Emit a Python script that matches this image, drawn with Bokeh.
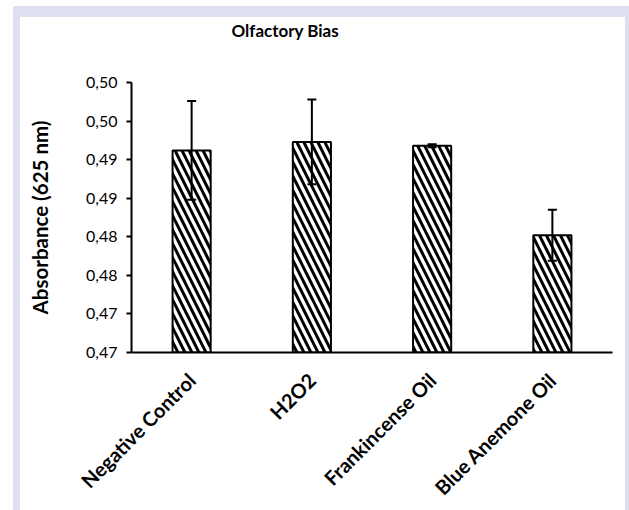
from bokeh.plotting import figure
from bokeh.models import ColumnDataSource, FixedTicker, Whisker, TeeHead, Title
from bokeh.embed import file_html
from bokeh.resources import INLINE

# ---- data ----
categories = ["Negative Control", "H2O2", "Frankincense Oil", "Blue Anemone Oil"]
category_labels = ["Negative Control", "H\u2082O\u2082", "Frankincense Oil", "Blue Anemone Oil"]
absorbance = [0.4912, 0.4923, 0.4918, 0.4802]
error = [0.0064, 0.0055, 0.0002, 0.0033]
y_tick_values = [0.465, 0.47, 0.475, 0.48, 0.485, 0.49, 0.495, 0.5]
y_tick_labels = ["0,47", "0,47", "0,48", "0,48", "0,49", "0,49", "0,50", "0,50"]
title_text = "Olfactory Bias"
y_label = "Absorbance (625 nm)"

FONT = "Lato"
BAND = "#dde0ef"

src = ColumnDataSource(dict(
    cat=categories,
    val=absorbance,
    upper=[v + e for v, e in zip(absorbance, error)],
    lower=[v - e for v, e in zip(absorbance, error)],
))

p = figure(x_range=categories, y_range=(y_tick_values[0], y_tick_values[-1]),
           width=605, height=493, output_backend="svg", toolbar_location=None,
           min_border_left=111, min_border_right=13, min_border_top=65,
           min_border_bottom=153, title=None)
p.styles = {"margin-left": "20px", "margin-top": "17px",
            "box-shadow": (f"-7px -11px 0 0 {BAND}, 4px -11px 0 0 {BAND}, "
                           f"4px 0 0 0 {BAND}, -7px 0 0 0 {BAND}")}
p.background_fill_color = "white"
p.border_fill_color = "white"
p.outline_line_color = None
p.grid.visible = False

p.vbar(x="cat", top="val", bottom=y_tick_values[0], width=0.317, source=src,
       fill_color="white", line_color="black", line_width=2,
       hatch_pattern="\\", hatch_color="black", hatch_weight=3, hatch_scale=14)

w = Whisker(source=src, base="cat", upper="upper", lower="lower",
            line_color="black", line_width=2, level="overlay",
            upper_head=TeeHead(size=9, line_width=2, line_color="black"),
            lower_head=TeeHead(size=9, line_width=2, line_color="black"))
p.add_layout(w)

# spacer (nearest to the frame) then the real title above it
p.add_layout(Title(text=" ", text_font_size="1px", standoff=39), "above")
p.add_layout(Title(text=title_text, align="left", offset=100, standoff=0,
                   text_font=FONT, text_font_style="bold", text_font_size="17px",
                   text_color="black"), "above")

# y axis
ya = p.yaxis[0]
ya.ticker = FixedTicker(ticks=y_tick_values)
ya.major_label_overrides = {v: l for v, l in zip(y_tick_values, y_tick_labels)}
ya.minor_tick_line_color = None
ya.major_tick_out = 5
ya.major_tick_in = 0
ya.major_tick_line_width = 2
ya.axis_line_width = 2
ya.axis_line_color = "black"
ya.major_label_text_font = FONT
ya.major_label_text_font_size = "16px"
ya.major_label_text_color = "black"
ya.major_label_standoff = 9
ya.axis_label = y_label
ya.axis_label_text_font = FONT
ya.axis_label_text_font_style = "bold"
ya.axis_label_text_font_size = "20.5px"
ya.axis_label_text_color = "black"
ya.axis_label_standoff = 31

# x axis
xa = p.xaxis[0]
xa.major_label_overrides = {c: l for c, l in zip(categories, category_labels)}
xa.major_tick_line_color = None
xa.minor_tick_line_color = None
xa.axis_line_width = 2
xa.axis_line_color = "black"
xa.major_label_orientation = 0.785398
xa.major_label_text_font = FONT
xa.major_label_text_font_style = "bold"
xa.major_label_text_font_size = "20px"
xa.major_label_text_color = "black"
xa.major_label_standoff = 18

open("out.html", "w").write(file_html(p, INLINE))
